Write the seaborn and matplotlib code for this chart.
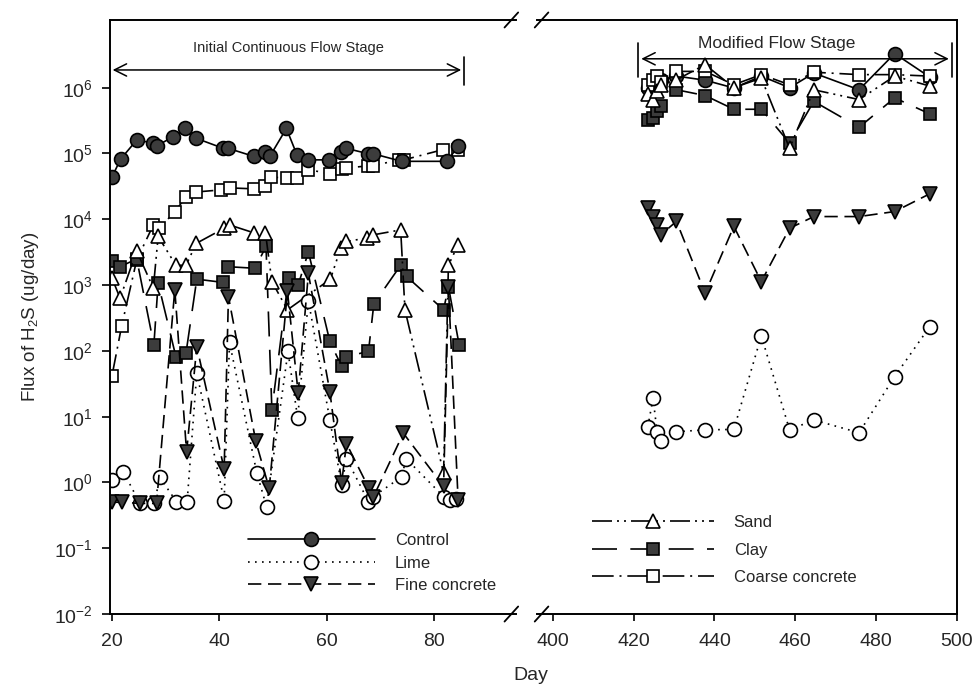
import matplotlib
matplotlib.use('Agg')
import matplotlib.pyplot as plt
from matplotlib.lines import Line2D
import seaborn as sns

sns.set_style('ticks')
plt.rcParams['font.family'] = ['Liberation Sans', 'DejaVu Sans']
plt.rcParams['mathtext.default'] = 'regular'

# ---- data: initial continuous flow stage (days 20-85) ----
control_day = [20, 21.6, 24.6, 27.6, 28.3, 31.4, 33.6, 35.7, 40.7, 41.6, 46.5, 48.5,
               49.4, 52.5, 54.5, 56.6, 60.5, 62.6, 63.6, 67.8, 68.7, 74.0, 82.5, 84.5]
control_flux = [4.4e4, 8.2e4, 1.6e5, 1.45e5, 1.3e5, 1.8e5, 2.4e5, 1.7e5, 1.2e5, 1.2e5,
                9.0e4, 1.07e5, 9.0e4, 2.4e5, 9.4e4, 8.0e4, 8.0e4, 1.07e5, 1.2e5, 9.9e4,
                9.9e4, 7.6e4, 7.6e4, 1.3e5]

lime_day = [20, 22.1, 25.2, 27.9, 28.9, 32.0, 34.0, 35.8, 40.9, 41.9, 47.0, 48.8, 52.8,
            54.6, 56.6, 60.6, 62.8, 63.7, 67.8, 68.7, 74.0, 74.8, 81.8, 83.0, 84.2]
lime_flux = [1.09, 1.46, 0.48, 0.48, 1.2, 0.51, 0.51, 46, 0.53, 134, 1.38, 0.43, 98,
             9.5, 582, 8.9, 0.92, 2.3, 0.51, 0.61, 1.22, 2.3, 0.61, 0.54, 0.57]

fine_day = [20, 21.8, 25.2, 28.3, 31.7, 33.9, 35.8, 40.9, 41.7, 46.8, 49.3, 52.7,
            54.7, 56.6, 60.6, 62.8, 63.7, 67.9, 68.7, 74.3, 81.8, 82.7, 84.5]
fine_flux = [0.5, 0.5, 0.48, 0.48, 850, 2.9, 116, 1.6, 670, 4.2, 0.81, 800,
             22.7, 1500, 24, 0.99, 3.9, 0.81, 0.6, 5.6, 0.87, 950, 0.55]

sand_day = [20, 21.5, 24.6, 27.7, 28.6, 31.9, 33.8, 35.7, 40.9, 41.9, 46.5, 48.6,
            49.8, 52.7, 60.7, 62.6, 63.7, 67.6, 68.7, 73.8, 74.6, 81.8, 82.7, 84.5]
sand_flux = [1280, 630, 3300, 900, 5500, 2000, 2000, 4300, 7300, 8200, 6200, 6200,
             1130, 420, 1230, 3600, 4600, 5200, 5800, 6900, 420, 1.38, 2000, 4100]

clay_day = [20, 21.5, 24.6, 27.8, 28.6, 31.9, 33.8, 35.8, 40.6, 41.7, 46.7, 48.7, 49.8,
            52.9, 54.7, 56.6, 60.6, 62.8, 63.7, 67.8, 68.8, 73.8, 74.9, 81.8, 82.7, 84.7]
clay_flux = [2360, 1900, 2500, 123, 1070, 82, 94, 1230, 1100, 1900, 1800, 3900, 12.7,
             1280, 1000, 3200, 139, 58, 82, 98, 519, 2000, 1350, 421, 950, 123]

coarse_day = [20, 21.8, 24.6, 27.7, 28.8, 31.7, 33.8, 35.7, 40.4, 41.9, 46.5, 48.6, 49.6,
              52.6, 54.5, 56.6, 60.6, 62.8, 63.6, 67.8, 68.7, 73.4, 74.4, 81.6, 84.5]
coarse_flux = [42, 240, 2400, 8200, 7300, 1.3e4, 2.2e4, 2.6e4, 2.8e4, 3.0e4, 2.9e4, 3.2e4,
               4.4e4, 4.2e4, 4.2e4, 5.7e4, 4.9e4, 5.8e4, 6.0e4, 6.5e4, 6.5e4, 8.0e4,
               8.0e4, 1.14e5, 1.14e5]

# ---- data: modified flow stage (days 423-493) ----
mod_day = [423.5, 424.8, 425.8, 426.7, 430.6, 437.7, 444.8, 451.6, 458.6, 464.6,
           475.8, 484.6, 493.3]
mod_control = [1.0e6, 1.1e6, 1.2e6, 1.3e6, 1.5e6, 1.3e6, 9.9e5, 1.5e6, 1.0e6, 1.67e6,
               9.3e5, 3.3e6, 1.45e6]
mod_lime = [6.9, 19.1, 5.9, 4.3, 5.9, 6.3, 6.4, 169, 6.3, 8.9, 5.7, 40.6, 234]
mod_fine = [1.48e4, 1.1e4, 8.2e3, 5.8e3, 9.3e3, 755, 7.8e3, 1130, 7.3e3, 1.1e4,
            1.1e4, 1.31e4, 2.44e4]
mod_sand = [8e5, 6.6e5, 9e5, 1.1e6, 1.32e6, 2.24e6, 1.0e6, 1.4e6, 1.2e5, 9.3e5,
            6.6e5, 1.5e6, 1.06e6]
mod_clay = [3.2e5, 3.5e5, 4.5e5, 5.2e5, 9.3e5, 7.6e5, 4.7e5, 4.7e5, 1.44e5, 6.2e5,
            2.5e5, 7.0e5, 4.0e5]
mod_coarse = [1.1e6, 1.3e6, 1.5e6, 1.2e6, 1.77e6, 1.77e6, 1.11e6, 1.58e6, 1.11e6,
              1.72e6, 1.58e6, 1.58e6, 1.5e6]

dark = '#3c3c3c'
styles = {
    'Control': dict(ls='-', marker='o', mfc=dark, ms=10),
    'Lime': dict(ls=(0, (1.0, 3.2)), marker='o', mfc='white', ms=10),
    'Fine concrete': dict(ls=(0, (8, 4)), marker='v', mfc=dark, ms=10),
    'Sand': dict(ls=(0, (12, 3, 1.2, 3, 1.2, 3)), marker='^', mfc='white', ms=10),
    'Clay': dict(ls=(0, (15, 8)), marker='s', mfc=dark, ms=8.5),
    'Coarse concrete': dict(ls=(0, (13, 3.5, 1.2, 3.5)), marker='s', mfc='white', ms=8.5),
}

def draw(ax, x, y, name):
    st = styles[name]
    sns.lineplot(x=x, y=y, ax=ax, color='black', lw=1.2, linestyle=st['ls'],
                 marker=st['marker'], markersize=st['ms'], markerfacecolor=st['mfc'],
                 markeredgecolor='black', markeredgewidth=1.2, estimator=None)

def handle(name):
    st = styles[name]
    return Line2D([], [], color='black', lw=1.2, linestyle=st['ls'], marker=st['marker'],
                  markersize=st['ms'], markerfacecolor=st['mfc'],
                  markeredgecolor='black', markeredgewidth=1.2)

fig = plt.figure(figsize=(9.74, 6.84), dpi=100)
axL = fig.add_axes([0.1128, 0.1023, 0.417, 0.8685])
axR = fig.add_axes([0.551, 0.1023, 0.4314, 0.8685])

for ax in (axL, axR):
    ax.set_yscale('log')
    ax.set_ylim(1e-2, 1.07e7)

draw(axL, coarse_day, coarse_flux, 'Coarse concrete')
draw(axL, clay_day, clay_flux, 'Clay')
draw(axL, sand_day, sand_flux, 'Sand')
draw(axL, lime_day, lime_flux, 'Lime')
draw(axL, fine_day, fine_flux, 'Fine concrete')
draw(axL, control_day, control_flux, 'Control')

draw(axR, mod_day, mod_control, 'Control')
draw(axR, mod_day, mod_coarse, 'Coarse concrete')
draw(axR, mod_day, mod_clay, 'Clay')
draw(axR, mod_day, mod_sand, 'Sand')
draw(axR, mod_day, mod_fine, 'Fine concrete')
draw(axR, mod_day, mod_lime, 'Lime')

axL.set_xlim(19.6, 95.3)
axR.set_xlim(396, 500)
axL.set_xticks([20, 40, 60, 80])
axR.set_xticks([400, 420, 440, 460, 480, 500])

decades = [1e-2, 1e-1, 1e0, 1e1, 1e2, 1e3, 1e4, 1e5, 1e6]
axL.set_yticks(decades)
axL.set_yticklabels([r'$10^{%d}$' % p for p in range(-2, 7)])
axL.minorticks_off()
axR.minorticks_off()
axR.set_yticks([])

for ax in (axL, axR):
    ax.tick_params(direction='out', width=1.2, labelsize=14, color='black')
    ax.tick_params(axis='x', length=5, pad=9)
    ax.tick_params(axis='y', length=6, pad=6)
    for s in ax.spines.values():
        s.set_linewidth(1.4)
        s.set_color('black')
    ax.set_xlabel('')
    ax.set_ylabel('')
axL.spines['right'].set_visible(False)
axR.spines['left'].set_visible(False)

axL.set_ylabel(r'Flux of H$_2$S (ug/day)', fontsize=13.5, labelpad=10)
fig.text(0.545, 1 - 676 / 684, 'Day', ha='center', va='center', fontsize=14)

# break marks
for xf in (0.525, 0.556):
    for yf in (0.1023, 0.9708):
        fig.add_artist(Line2D([xf - 0.007, xf + 0.007], [yf - 0.011, yf + 0.011],
                              color='black', lw=1.3, transform=fig.transFigure))

# stage arrows
axL.annotate('', xy=(85.6, 1.86e6), xytext=(19.6, 1.86e6),
             arrowprops=dict(arrowstyle='<->', lw=1.1, color='black', mutation_scale=22))
axL.plot([85.6, 85.6], [1.1e6, 2.9e6], color='black', lw=1.2)
axL.text(52.8, 4.0e6, 'Initial Continuous Flow Stage', ha='center', va='center', fontsize=10.5)

axR.annotate('', xy=(498.7, 2.75e6), xytext=(421.2, 2.75e6),
             arrowprops=dict(arrowstyle='<->', lw=1.1, color='black', mutation_scale=22))
for xb in (421.2, 498.7):
    axR.plot([xb, xb], [1.45e6, 4.8e6], color='black', lw=1.2)
axR.text(455.4, 4.7e6, 'Modified Flow Stage', ha='center', va='center', fontsize=12.5)

# legends
leg1 = axL.legend(handles=[handle(n) for n in ['Control', 'Lime', 'Fine concrete']],
                  labels=['Control', 'Lime', 'Fine concrete'], frameon=False,
                  loc='upper left', bbox_to_anchor=(248 / 974, 1 - 533 / 684),
                  bbox_transform=fig.transFigure, fontsize=12, handlelength=7.6,
                  handletextpad=1.2, labelspacing=0.45, borderpad=0, borderaxespad=0)
leg2 = axR.legend(handles=[handle(n) for n in ['Sand', 'Clay', 'Coarse concrete']],
                  labels=['Sand', 'Clay', 'Coarse concrete'], frameon=False,
                  loc='upper left', bbox_to_anchor=(592 / 974, 1 - 515 / 684),
                  bbox_transform=fig.transFigure, fontsize=12, handlelength=7.3,
                  handletextpad=1.2, labelspacing=0.75, borderpad=0, borderaxespad=0)

fig.savefig('out.png', dpi=100)
